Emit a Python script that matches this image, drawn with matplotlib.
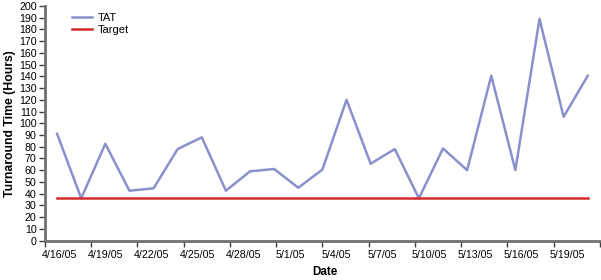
import numpy as np
import matplotlib
matplotlib.use("Agg")
import matplotlib.pyplot as plt

plt.rcParams['font.family'] = ['Liberation Sans', 'DejaVu Sans']

# turnaround time per sample (hours)
tat_hours = [91, 36, 82.5, 42.5, 44.5, 78, 88, 42.5, 59, 61, 45, 60.5,
             120, 65.5, 78, 36, 78.5, 60, 140.5, 60, 189, 105.5, 140.5]
target_hours = 36.5
date_labels = ['4/16/05', '4/19/05', '4/22/05', '4/25/05', '4/28/05', '5/1/05',
               '5/4/05', '5/7/05', '5/10/05', '5/13/05', '5/16/05', '5/19/05']

n = len(tat_hours)
x = np.arange(n)
fs = 7.7

fig = plt.figure(figsize=(6.01, 2.8), dpi=100)
ax = fig.add_axes([0.0749, 0.141, 0.9231, 0.8376])

ax.plot(x, tat_hours, color='#8b90cc', lw=1.8, label='TAT')
ax.plot(x, [target_hours] * n, color='#d42a2a', lw=1.8, label='Target')

ax.set_xlim(-0.5, n - 0.5)
ax.set_ylim(0, 200)
ax.set_yticks(np.arange(0, 201, 10))

# tick marks mark interval boundaries; labels sit a bit to the right
bounds = np.linspace(-0.5, n - 0.5, len(date_labels) + 1)
ax.set_xticks(bounds)
ax.set_xticklabels([])
ax.set_xticks(bounds[:-1] + 0.58, minor=True)
ax.set_xticklabels(date_labels, minor=True)
ax.tick_params(axis='x', which='minor', length=0, pad=7, labelsize=fs)
ax.tick_params(axis='both', which='major', labelsize=fs, length=4, width=1, color='#404040')
ax.tick_params(axis='y', pad=2)

for side in ['top', 'right']:
    ax.spines[side].set_visible(False)
for side in ['left', 'bottom']:
    ax.spines[side].set_color('#707070')
    ax.spines[side].set_linewidth(2)

ax.set_xlabel('Date', fontsize=8.4, fontweight='bold')
ax.xaxis.set_label_coords(0.505, -0.11)
ax.set_ylabel('Turnaround Time (Hours)', fontsize=8.8, fontweight='bold')
ax.yaxis.set_label_coords(-0.053, 0.5)

ax.legend(loc='upper left', bbox_to_anchor=(0.041, 0.99), frameon=False, fontsize=8,
          handlelength=1.75, handletextpad=0.55, labelspacing=0.18, borderaxespad=0)

fig.savefig('out.png', dpi=100)
